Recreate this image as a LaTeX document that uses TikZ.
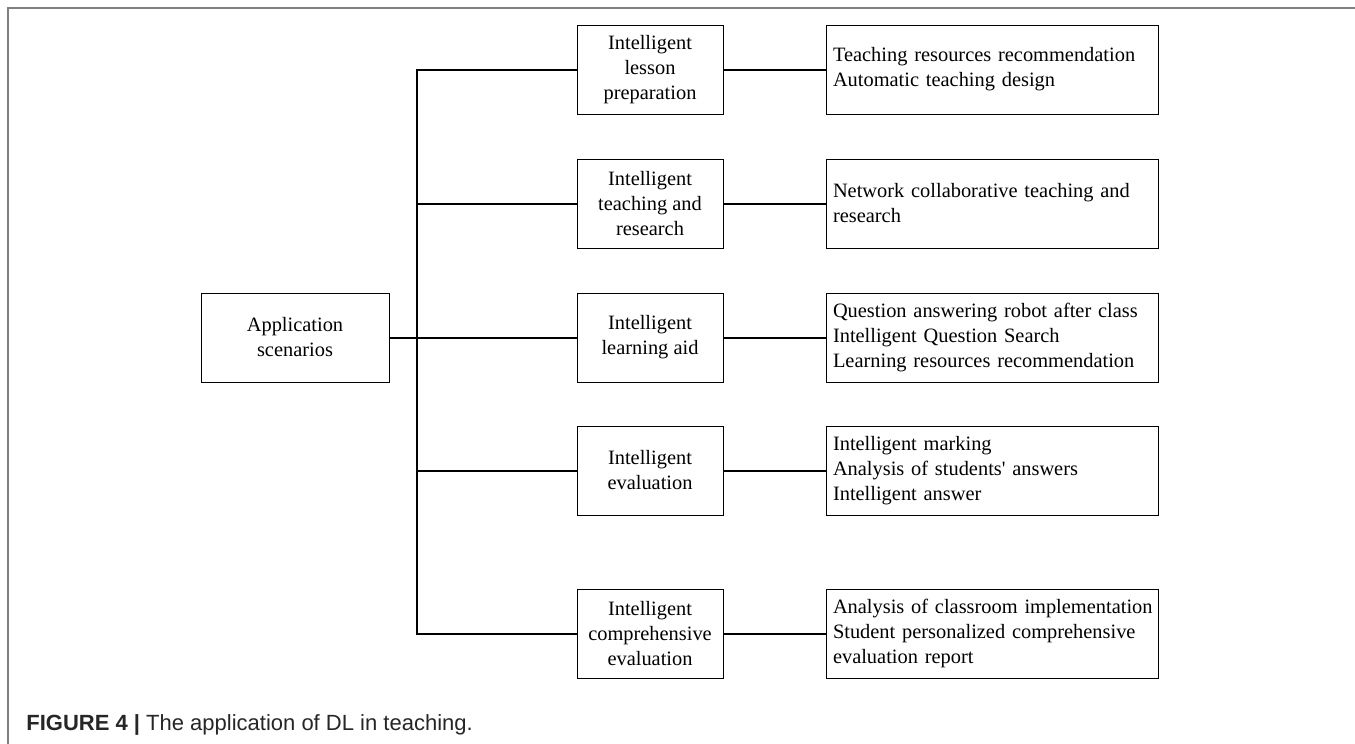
\documentclass[tikz,border=0pt]{standalone}
\usepackage{fontspec}
\setmainfont{Liberation Serif}
\setsansfont{Liberation Sans}
\usetikzlibrary{positioning}
\hyphenpenalty=10000
\exhyphenpenalty=10000
\hbadness=10000
\hfuzz=20pt

\begin{document}
\begin{tikzpicture}[x=0.5pt,y=-0.5pt,
  every node/.style={font=\fontsize{10.2}{12.5}\selectfont},
  rootbox/.style={draw,line width=0.5pt,minimum width=94pt,minimum height=44.5pt,align=center,inner sep=2pt},
  areabox/.style={draw,line width=0.5pt,minimum width=73pt,minimum height=44.5pt,align=center,inner sep=2pt},
  itembox/.style={draw,line width=0.5pt,text width=159pt,inner xsep=3.5pt,minimum height=44.5pt,align=left},
  link/.style={line width=1pt}]
\useasboundingbox (0,0) rectangle (1355,744);
\draw[gray,line width=0.8pt] (8,744)--(8,8)--(1355,8);

\node[rootbox] (app) at (295,337.5) {Application\\scenarios};
\coordinate (trunk) at (417,337.5);

\node[areabox] (a1) at (650,69.5) {Intelligent\\lesson\\preparation};
\node[areabox] (a2) at (650,203.5) {Intelligent\\teaching and\\research};
\node[areabox] (a3) at (650,337.5) {Intelligent\\learning aid};
\node[areabox] (a4) at (650,470.5) {Intelligent\\evaluation};
\node[areabox] (a5) at (650,633.5) {Intelligent\\comprehensive\\evaluation};

\node[itembox,right=51pt of a1] (b1) {Teaching resources recommendation\\Automatic teaching design};
\node[itembox,right=51pt of a2] (b2) {Network collaborative teaching and\\research};
\node[itembox,right=51pt of a3] (b3) {Question answering robot after class\\Intelligent Question Search\\Learning resources recommendation};
\node[itembox,right=51pt of a4] (b4) {Intelligent marking\\Analysis of students\textquotesingle\ answers\\Intelligent answer};
\node[itembox,right=51pt of a5] (b5) {Analysis~of~classroom~implementation\\Student personalized comprehensive\\evaluation report};

\draw[link] (app.east)--(trunk);
\draw[link] (a1.west) -| (trunk |- a5.west) -- (a5.west);
\foreach \i in {2,3,4}
  \draw[link] (trunk |- a\i.west)--(a\i.west);
\foreach \i in {1,...,5}
  \draw[link] (a\i.east)--(b\i.west);

\node[font=\sffamily\fontsize{11}{13}\selectfont,text=black!85,anchor=base west,inner sep=0pt] (cap) at (26,730) {\textbf{FIGURE 4 |} The application of DL in teaching.};
\end{tikzpicture}
\end{document}
